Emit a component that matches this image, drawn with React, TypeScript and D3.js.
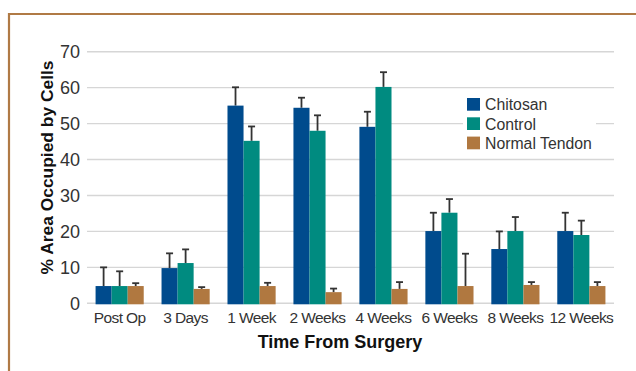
import React from "react";
import * as d3 from "d3";

const categories = ["Post Op", "3 Days", "1 Week", "2 Weeks", "4 Weeks", "6 Weeks", "8 Weeks", "12 Weeks"];
const seriesNames = ["Chitosan", "Control", "Normal Tendon"];
const chitosan = [4.8, 9.8, 55, 54.4, 49.1, 20.1, 15.1, 20.1];
const chitosanErr = [10, 13.9, 60.1, 57.2, 53.3, 25.2, 20, 25.2];
const control = [4.8, 11.2, 45.2, 48, 60.2, 25.2, 20.1, 19];
const controlErr = [8.9, 15, 49.2, 52.3, 64.3, 29, 24, 23];
const normal = [4.8, 4, 4.8, 3.1, 4, 4.8, 5.1, 4.8];
const normalErr = [5.6, 4.5, 5.7, 4.1, 5.9, 13.8, 5.9, 5.9];
const yTicks = [0, 10, 20, 30, 40, 50, 60, 70];
const colors = ["#004B8D", "#008B80", "#B07840"];

export default function App() {
  const W = 636, H = 371;
  const left = 87, right = 614, top = 51.7, bottom = 303.3;
  const y = d3.scaleLinear().domain([0, 70]).range([bottom, top]);
  const x0 = d3.scaleBand().domain(categories).range([left, right]).paddingInner(0.27).paddingOuter(0.13);
  const x1 = d3.scaleBand().domain(seriesNames).range([0, x0.bandwidth()]);
  const vals = [chitosan, control, normal];
  const errs = [chitosanErr, controlErr, normalErr];
  const font = "'Liberation Sans', Arial, Helvetica, sans-serif";
  return (
    <svg width={W} height={H} style={{ position: "absolute", left: 0, top: 0, background: "#fff" }} fontFamily={font}>
      <path d={`M9,${H + 5} L9,14 L${W + 5},14`} fill="none" stroke="#B07A45" strokeWidth={2.2} />
      {yTicks.map((t) => (
        <g key={t}>
          <line x1={left} x2={right} y1={y(t)} y2={y(t)} stroke="#d6d6d6" strokeWidth={1.4} />
          <text x={80} y={y(t)} dy="0.36em" textAnchor="end" fontSize={18} fill="#333">{t}</text>
        </g>
      ))}
      {categories.map((c, i) => (
        <g key={c} transform={`translate(${x0(c)},0)`}>
          {seriesNames.map((s, j) => {
            const bx = x1(s)!;
            const bw = x1.bandwidth();
            const cx = bx + bw / 2;
            return (
              <g key={s}>
                <line x1={cx} x2={cx} y1={y(vals[j][i])} y2={y(errs[j][i])} stroke="#333" strokeWidth={1.8} />
                <line x1={cx - 3.5} x2={cx + 3.5} y1={y(errs[j][i])} y2={y(errs[j][i])} stroke="#333" strokeWidth={1.8} />
                <rect x={bx} y={y(vals[j][i])} width={bw} height={y(0) - y(vals[j][i]) + 1} fill={colors[j]} />
              </g>
            );
          })}
          <text x={x0.bandwidth() / 2} y={322.5} textAnchor="middle" fontSize={15.5} fill="#333" letterSpacing={-0.6}>{c}</text>
        </g>
      ))}
      <rect x={463} y={94} width={133} height={60} fill="#fff" />
      {seriesNames.map((s, j) => (
        <g key={s} transform={`translate(467,${98 + j * 19.3})`}>
          <rect x={0} y={0} width={13} height={12.7} fill={colors[j]} />
          <text x={18} y={6.5} dy="0.36em" fontSize={15.8} fill="#333">{s}</text>
        </g>
      ))}
      <text x={340} y={348} textAnchor="middle" fontSize={18} fontWeight="bold" fill="#111">Time From Surgery</text>
      <text transform={`translate(53,167.5) rotate(-90)`} textAnchor="middle" fontSize={17.4} fontWeight="bold" fill="#111">% Area Occupied by Cells</text>
    </svg>
  );
}
